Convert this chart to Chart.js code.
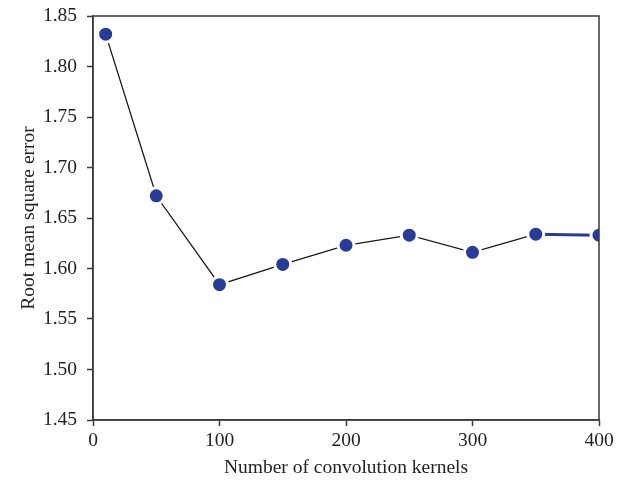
<!DOCTYPE html>
<html>
<head>
<meta charset="utf-8">
<script src="https://cdn.jsdelivr.net/npm/chart.js@4"></script>
<style>
html,body{margin:0;padding:0;background:#fff;}
#wrap{width:629px;height:483px;position:relative;}
</style>
</head>
<body>
<div id="wrap"><canvas id="c" width="629" height="483"></canvas></div>
<script>
const kernels = [10, 50, 100, 150, 200, 250, 300, 350, 400];
const rmse = [1.832, 1.672, 1.584, 1.604, 1.623, 1.633, 1.616, 1.634, 1.633];
const xTitle = 'Number of convolution kernels';
const yTitle = 'Root mean square error';

const FONT = '"Liberation Serif", "DejaVu Serif", serif';
const axisColor = '#3a3a3a';
const markColor = '#283c96';

const boxPlugin = {
  id: 'box',
  beforeDatasetsDraw(chart) {
    const a = chart.chartArea, ctx = chart.ctx;
    ctx.save();
    ctx.beginPath();
    ctx.rect(a.left, a.top, a.right - a.left, a.bottom - a.top);
    ctx.clip();
  },
  afterDatasetsDraw(chart) {
    const a = chart.chartArea, ctx = chart.ctx;
    ctx.restore();
    ctx.save();
    ctx.strokeStyle = axisColor;
    ctx.lineWidth = 1.5;
    ctx.strokeRect(a.left, a.top, a.right - a.left, a.bottom - a.top);
    ctx.restore();
  }
};

new Chart(document.getElementById('c'), {
  type: 'scatter',
  data: {
    datasets: [{
      data: kernels.map((k, i) => ({x: k, y: rmse[i]})),
      showLine: true,
      borderColor: '#1a1a1a',
      borderWidth: 1.3,
      pointRadius: 8,
      pointHoverRadius: 8,
      pointBackgroundColor: markColor,
      pointBorderColor: '#ffffff',
      pointBorderWidth: 3,
      clip: 0,
      segment: {
        borderColor: ctx => ctx.p0DataIndex === kernels.length - 2 ? markColor : '#1a1a1a',
        borderWidth: ctx => ctx.p0DataIndex === kernels.length - 2 ? 3 : 1.3
      }
    }]
  },
  options: {
    responsive: false,
    animation: false,
    events: [],
    layout: {padding: {left: 0, right: 30, top: 16, bottom: 0}},
    plugins: {legend: {display: false}, tooltip: {enabled: false}},
    scales: {
      x: {
        type: 'linear',
        min: 0, max: 400,
        afterFit: s => { s.height = 63; s.paddingLeft = 0; s.paddingRight = 0; },
        ticks: {stepSize: 100, color: '#222', font: {family: FONT, size: 19.5}, padding: 3, maxRotation: 0},
        grid: {drawOnChartArea: false, drawTicks: true, tickLength: 6, color: axisColor, tickWidth: 1.5},
        border: {display: true, color: axisColor, width: 1.5},
        title: {display: true, text: xTitle, color: '#222', font: {family: FONT, size: 19.5}, padding: {top: 0, bottom: 3}}
      },
      y: {
        type: 'linear',
        min: 1.45, max: 1.85,
        afterFit: s => { s.width = 93; s.paddingTop = 0; s.paddingBottom = 0; },
        ticks: {stepSize: 0.05, color: '#222', font: {family: FONT, size: 19.5}, padding: 10,
          callback: v => Number(v).toFixed(2)},
        grid: {drawOnChartArea: false, drawTicks: true, tickLength: 6, color: axisColor, tickWidth: 1.5},
        border: {display: true, color: axisColor, width: 1.5},
        title: {display: true, text: yTitle, color: '#222', font: {family: FONT, size: 19.5}, padding: {top: 17, bottom: 0}}
      }
    }
  },
  plugins: [boxPlugin]
});
</script>
</body>
</html>
